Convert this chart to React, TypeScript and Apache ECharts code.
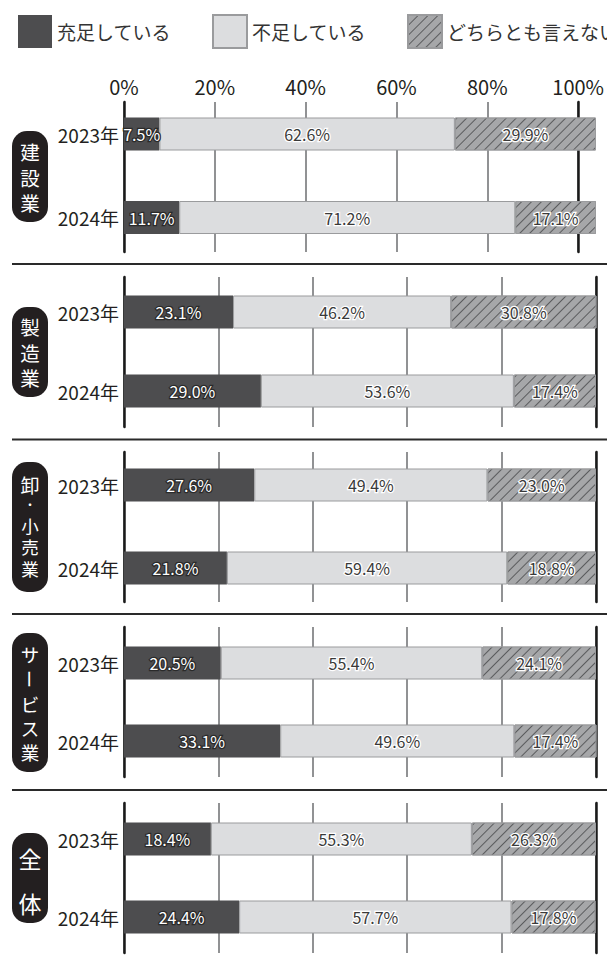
import React, { useEffect, useRef } from "react";
import * as echarts from "echarts";

const industries = ["建設業", "製造業", "卸・小売業", "サービス業", "全体"];
const years = ["2023年", "2024年"];
const seriesNames = ["充足している", "不足している", "どちらとも言えない"];
const sufficient = [[7.5, 11.7], [23.1, 29.0], [27.6, 21.8], [20.5, 33.1], [18.4, 24.4]];
const insufficient = [[62.6, 71.2], [46.2, 53.6], [49.4, 59.4], [55.4, 49.6], [55.3, 57.7]];
const neither = [[29.9, 17.1], [30.8, 17.4], [23.0, 18.8], [24.1, 17.4], [26.3, 17.8]];
const xTicks = [0, 20, 40, 60, 80, 100];

const FONT = "'Noto Sans CJK JP', 'Noto Sans', sans-serif";

// layout (pixel positions of each group block)
const lineTop = [102, 277, 452, 627, 803];
const barCenters = [[134, 217.5], [312, 391], [485, 568], [663, 741], [839, 917]];
const pillBox = [[131, 222], [307, 397], [462, 592], [633, 772], [833, 923]];
// centre y and font size of each character of the vertical labels
const charY = [
  [151.5, 177, 202.5],
  [326.5, 352, 377.5],
  [484, 504.5, 525, 546.5, 568],
  [654, 679, 703.5, 727.5, 751.5],
  [858, 903],
];
const charSize = [
  [19.5, 19.5, 19.5],
  [19.5, 19.5, 19.5],
  [19, 12, 17.5, 17.5, 17.5],
  [18.5, 18.5, 18.5, 18.5, 18.5],
  [23, 23],
];
const separators = [264, 439.5, 614, 790];
const LEFT = 124;
const RIGHT = 11;

export default function App() {
  const ref = useRef<HTMLDivElement>(null);
  useEffect(() => {
    if (!ref.current) return;
    const chart = echarts.init(ref.current, null, { renderer: "svg" });
    const grid: any[] = [];
    const xAxis: any[] = [];
    const yAxis: any[] = [];
    const series: any[] = [];
    const graphic: any[] = [];
    const colors = ["#4d4d4f", "#dcdddf", "#a6a7a9"];
    const dataSets = [sufficient, insufficient, neither];

    industries.forEach((name, i) => {
      // line grid
      const lg = grid.length;
      grid.push({ left: LEFT, right: RIGHT, top: lineTop[i], height: 150 });
      xAxis.push({
        gridIndex: lg,
        type: "value",
        min: 0,
        max: 100,
        interval: 20,
        position: "top",
        axisLine: { show: false },
        axisTick: { show: false },
        axisLabel: {
          show: i === 0,
          formatter: (v: number) => (xTicks.includes(v) ? v + "%" : ""),
          fontSize: 20,
          color: "#231f20",
          fontFamily: FONT,
          margin: 6,
        },
        splitLine: { show: true, lineStyle: { color: "#6d6e70", width: 1.5 } },
      });
      ["left", "right"].forEach((pos) => {
        yAxis.push({
          gridIndex: lg,
          type: "value",
          min: 0,
          max: 1,
          position: pos,
          axisLine: { show: true, lineStyle: { color: "#1a1a1a", width: 2.5 } },
          axisTick: { show: false },
          axisLabel: { show: false },
          splitLine: { show: false },
        });
      });

      // bar grid
      const bg = grid.length;
      const [c1, c2] = barCenters[i];
      const band = c2 - c1;
      grid.push({ left: LEFT, right: RIGHT, top: c1 - band / 2, height: band * 2 });
      const xi = xAxis.length;
      xAxis.push({ gridIndex: bg, type: "value", min: 0, max: 100, show: false });
      const yi = yAxis.length;
      yAxis.push({
        gridIndex: bg,
        type: "category",
        data: years,
        inverse: true,
        axisLine: { show: false },
        axisTick: { show: false },
        axisLabel: { fontSize: 19, color: "#231f20", fontFamily: FONT, margin: 5 },
        splitLine: { show: false },
      });

      seriesNames.forEach((sn, k) => {
        const dark = k === 0;
        series.push({
          type: "bar",
          name: sn,
          stack: "g" + i,
          xAxisIndex: xi,
          yAxisIndex: yi,
          barWidth: 33,
          data: dataSets[k][i],
          itemStyle: {
            color: colors[k],
            borderColor: dark ? colors[k] : "#9a9b9d",
            borderWidth: dark ? 0 : 1,
            decal:
              k === 2
                ? {
                    symbol: "rect",
                    symbolSize: 1,
                    color: "#5a5b5d",
                    dashArrayX: [1, 0],
                    dashArrayY: [1, 5.5],
                    rotation: -Math.PI / 4,
                  }
                : "none",
          },
          label: {
            show: true,
            position: "inside",
            formatter: (p: any) => Number(p.value).toFixed(1) + "%",
            fontSize: 16,
            fontFamily: FONT,
            color: dark ? "#ffffff" : "#3a3a3a",
            textBorderColor: dark ? "#2a2a2a" : "#ffffff",
            textBorderWidth: 2.5,
          },
        });
      });

      // left pill label (vertical writing; "ー" is rotated as in vertical text)
      const [py1, py2] = pillBox[i];
      graphic.push({
        type: "rect",
        shape: { x: 12, y: py1, width: 36, height: py2 - py1, r: 15 },
        style: { fill: "#231f20" },
      });
      Array.from(name).forEach((ch, j) => {
        graphic.push({
          type: "text",
          x: 30,
          y: charY[i][j],
          rotation: ch === "ー" ? -Math.PI / 2 : 0,
          style: {
            text: ch,
            fill: "#ffffff",
            fontSize: charSize[i][j],
            fontFamily: FONT,
            align: "center",
            verticalAlign: "middle",
          },
        });
      });
    });

    separators.forEach((y) => {
      graphic.push({
        type: "line",
        shape: { x1: 12, y1: y, x2: 607, y2: y },
        style: { stroke: "#2a2a2a", lineWidth: 2 },
      });
    });

    chart.setOption({
      animation: false,
      backgroundColor: "#ffffff",
      textStyle: { fontFamily: FONT },
      legend: {
        data: seriesNames,
        left: 13,
        top: 9,
        width: 680,
        itemWidth: 34,
        itemHeight: 33,
        itemGap: 41,
        icon: "rect",
        selectedMode: false,
        textStyle: { fontSize: 19, color: "#333333", fontFamily: FONT },
      },
      grid,
      xAxis,
      yAxis,
      series,
      graphic,
    });
    return () => chart.dispose();
  }, []);
  return (
    <div
      ref={ref}
      style={{ position: "absolute", left: 0, top: 0, width: 607, height: 956 }}
    />
  );
}
